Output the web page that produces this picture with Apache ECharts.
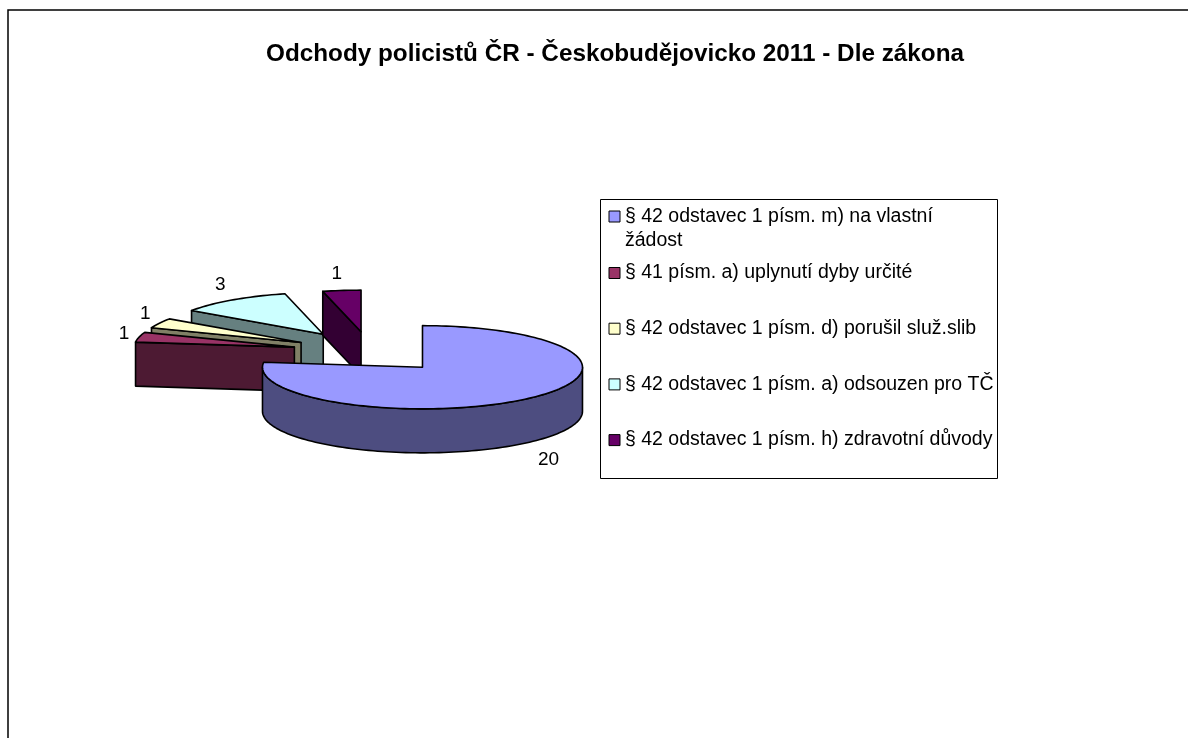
<!DOCTYPE html>
<html>
<head>
<meta charset="utf-8">
<style>
  html, body { margin: 0; background: #fff; }
  #chart { width: 1188px; height: 738px; }
</style>
<script src="https://cdn.jsdelivr.net/npm/echarts@6/dist/echarts.min.js"></script>
</head>
<body>
<div id="chart"></div>
<script>
const titleText = 'Odchody policistů ČR - Českobudějovicko 2011 - Dle zákona'
const categories = [
  '§ 42 odstavec 1 písm. m) na vlastní\nžádost',
  '§ 41 písm. a) uplynutí dyby určité',
  '§ 42 odstavec 1 písm. d) porušil služ.slib',
  '§ 42 odstavec 1 písm. a) odsouzen pro TČ',
  '§ 42 odstavec 1 písm. h) zdravotní důvody',
]
const values = [20, 1, 1, 3, 1]
const topColors = ['#9999FF', '#993366', '#FFFFCC', '#CCFFFF', '#660066']
const sideColors = ['#4D4D80', '#4D1A33', '#808066', '#668080', '#330033']

// pie geometry (px), fake 3d like the old excel chart
const cx = 370.5
const cy = 352
const rx = 160
const ry = 41.6
const depth = 44
const explode = [0.49, 0.49, 0.49, 0.52, 0.49]
const font = '"Liberation Sans", Arial, sans-serif'
// label nudge from the outer edge of each slice
const labelNudge = [[20, 17], [-15, -3], [-14, -9], [-12, -15], [-5, -17]]
// back slices first, big one on top
const drawOrder = [3, 4, 2, 1, 0]

const total = values.reduce((a, b) => a + b, 0)
const starts = []
let sum = 0
values.forEach((v) => {
  starts.push((sum / total) * Math.PI * 2)
  sum += v
})

function renderSlice(i) {
  const a0 = starts[i]
  const a1 = a0 + (values[i] / total) * Math.PI * 2
  const mid = (a0 + a1) / 2
  const ox = cx + explode[i] * rx * Math.sin(mid)
  const oy = cy - explode[i] * ry * Math.cos(mid)
  const pt = (a, dz) => [ox + rx * Math.sin(a), oy - ry * Math.cos(a) + (dz || 0)]
  const arc = (from, to, dz) => {
    const pts = []
    const n = Math.max(2, Math.ceil((to - from) / 0.03))
    for (let k = 0; k <= n; k++)
      pts.push(pt(from + ((to - from) * k) / n, dz))
    return pts
  }
  const line = { stroke: '#000', lineWidth: 1.6, lineJoin: 'round' }
  const poly = (points, fill) => ({
    type: 'polygon',
    shape: { points },
    style: { fill, ...line },
  })
  const children = []
  // cut faces
  if (Math.sin(a0) < -0.001) {
    children.push(poly([[ox, oy], pt(a0), pt(a0, depth), [ox, oy + depth]], sideColors[i]))
  }
  if (Math.sin(a1) > 0.001) {
    children.push(poly([[ox, oy], pt(a1), pt(a1, depth), [ox, oy + depth]], sideColors[i]))
  }
  // outer wall, only the front half is seen
  const w0 = Math.max(a0, Math.PI / 2)
  const w1 = Math.min(a1, (Math.PI * 3) / 2)
  if (w1 > w0) {
    children.push(poly([...arc(w0, w1), ...arc(w0, w1, depth).reverse()], sideColors[i]))
  }
  // top face
  children.push(poly([[ox, oy], ...arc(a0, a1)], topColors[i]))
  // data label
  const edge = pt(mid, Math.cos(mid) < 0 ? depth : 0)
  children.push({
    type: 'text',
    x: edge[0] + labelNudge[i][0],
    y: edge[1] + labelNudge[i][1],
    style: {
      text: String(values[i]),
      font: `19px ${font}`,
      fill: '#000',
      align: 'center',
      verticalAlign: 'middle',
    },
  })
  return { type: 'group', children }
}

const series = drawOrder.map((i) => ({
  type: 'custom',
  name: categories[i],
  coordinateSystem: 'none',
  silent: true,
  animation: false,
  itemStyle: { color: topColors[i] },
  data: [values[i]],
  renderItem: () => renderSlice(i),
}))

const legendBase = {
  orient: 'vertical',
  left: 608.5,
  itemWidth: 11,
  itemHeight: 11,
  itemGap: 31.7,
  icon: 'rect',
  selectedMode: false,
  padding: 0,
  itemStyle: { borderColor: '#000', borderWidth: 1 },
}

const option = {
  animation: false,
  backgroundColor: '#fff',
  title: {
    text: titleText,
    left: 610,
    top: 37,
    textAlign: 'center',
    textStyle: { fontFamily: font, fontSize: 24.3, fontWeight: 'bold', color: '#000' },
  },
  legend: [
    {
      ...legendBase,
      top: 180.5,
      data: categories.slice(0, 1),
      // blank first line keeps the swatch level with the first text line
      formatter: (name) => `\n${name}`,
      textStyle: { fontFamily: font, fontSize: 19.5, lineHeight: 24, color: '#000' },
    },
    {
      ...legendBase,
      top: 261,
      data: categories.slice(1),
      textStyle: { fontFamily: font, fontSize: 19.5, lineHeight: 24, color: '#000' },
    },
  ],
  graphic: [
    {
      type: 'rect',
      silent: true,
      z: -1,
      shape: { x: 600.5, y: 199.5, width: 397, height: 279 },
      style: { fill: '#fff', stroke: '#000', lineWidth: 1 },
    },
    {
      type: 'polyline',
      silent: true,
      shape: { points: [[8, 738], [8, 10], [1188, 10]] },
      style: { fill: null, stroke: '#000', lineWidth: 1.5 },
    },
  ],
  series,
}

const myChart = echarts.init(document.getElementById('chart'))
myChart.setOption(option)
window.addEventListener('resize', () => {
  myChart.resize()
})
</script>
</body>
</html>
